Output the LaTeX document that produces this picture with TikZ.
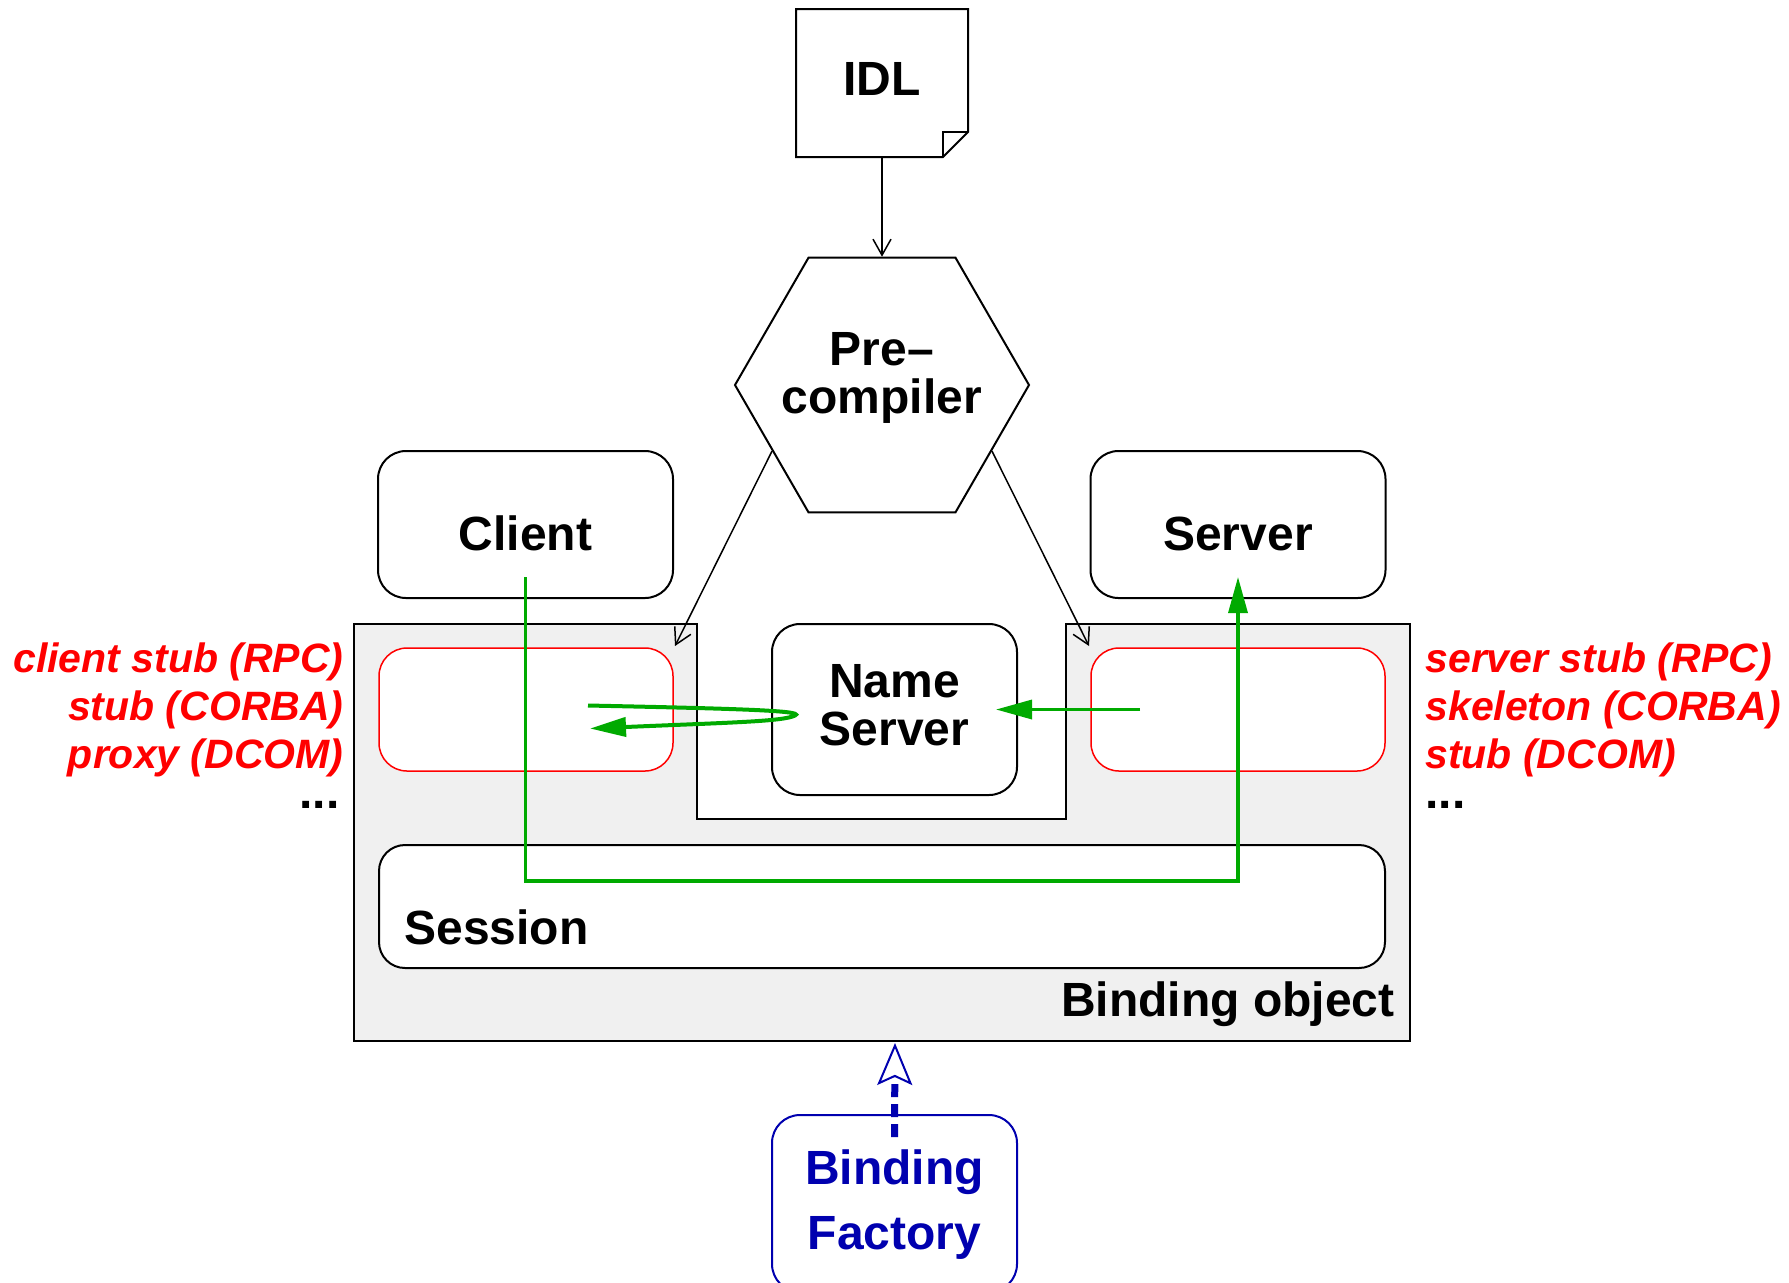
\documentclass[tikz,border=0pt]{standalone}
\usepackage{fontspec}
\setmainfont{Liberation Sans}
\usetikzlibrary{arrows.meta,shapes.geometric,calc}

\definecolor{flowgreen}{RGB}{0,170,0}
\definecolor{stubred}{RGB}{255,0,0}
\definecolor{factblue}{RGB}{0,0,175}
\definecolor{bindgray}{RGB}{240,240,240}

\begin{document}
\begin{tikzpicture}[x=0.5pt,y=-0.5pt,
  box/.style={draw,line width=1pt,rounded corners=14pt,fill=white,inner sep=0pt},
  stubbox/.style={draw=stubred,line width=0.75pt,rounded corners=14pt,fill=white,
    inner sep=0pt,minimum width=147pt,minimum height=61.5pt},
  lbl/.style={font=\fontsize{24}{24}\selectfont\bfseries,inner sep=0pt,anchor=base},
  stubtxt/.style={font=\fontsize{20.5}{24}\selectfont\bfseries\itshape,text=stubred,inner sep=0pt},
  dots/.style={font=\fontsize{24}{24}\selectfont\bfseries,inner sep=0pt,text height=4pt},
  feed/.style={line width=0.75pt,-{Straight Barb[length=8pt,width=9pt]}},
  flow/.style={draw=flowgreen,line width=1.7pt},
  flowtip/.style={-{Triangle[length=18pt,width=9.5pt]},flowgreen},
]
\useasboundingbox (0,0) rectangle (1789,1282);
\clip (0,0) rectangle (1789,1282);

% binding object: grey area with a notch for the name server
\fill[bindgray] (354,624) -- (697,624) -- (697,819) -- (1066,819) -- (1066,624)
  -- (1410,624) -- (1410,1041) -- (354,1041) -- cycle;
\draw[line width=1pt] (354,624) -- (697,624) -- (697,819) -- (1066,819) -- (1066,624)
  -- (1410,624) -- (1410,1041) -- (354,1041) -- cycle;
\coordinate (bindbot) at (895,1043);

% IDL document with folded corner
\coordinate (idlbot) at (882,157);
\draw[line width=1pt,fill=white] (796,9) -- (968,9) -- (968,132) -- (943,157) -- (796,157) -- cycle;
\draw[line width=1pt] (943,157) -- (943,132) -- (968,132);
\node[lbl] (idl) at (882,95) {IDL};

% precompiler
\node[draw,line width=1pt,regular polygon,regular polygon sides=6,minimum size=147pt,
  inner sep=0pt,fill=white] (pre) at (882,385) {};
\node[lbl] (pre1) at (882,365) {Pre–};
\node[lbl] (pre2) at (882,413) {compiler};

% client and server
\node[box,minimum width=147.5pt,minimum height=73.5pt] (client) at (525.5,524.5) {};
\node[lbl] (clientlbl) at (525.5,550) {Client};
\node[box,minimum width=147.5pt,minimum height=73.5pt] (server) at (1238,524.5) {};
\node[lbl] (serverlbl) at (1238,550) {Server};

% stubs
\node[stubbox] (stubL) at (526,709.5) {};
\node[stubbox] (stubR) at (1238,709.5) {};

% name server
\node[box,minimum width=122.5pt,minimum height=85.5pt] (ns) at (894.5,709.5) {};
\node[lbl] (ns1) at (894.5,697) {Name};
\node[lbl] (ns2) at (894.5,745) {Server};

% session
\node[box,rounded corners=13pt,minimum width=503pt,minimum height=61.5pt] (session) at (882,906.5) {};
\node[lbl,anchor=base west] (sessionlbl) at (404,944) {Session};
\node[lbl,anchor=base east] (bindlbl) at (1395,1016) {Binding object};

% binding factory
\node[draw=factblue,line width=1pt,rounded corners=14pt,fill=white,inner sep=0pt,
  minimum width=122.5pt,minimum height=88.5pt] (factory) at (894.5,1203.5) {};
\node[lbl,text=factblue] (fac1) at (894.5,1184) {Binding};
\node[lbl,text=factblue] (fac2) at (894.5,1249) {Factory};

% stub names
\node[stubtxt,anchor=base east] (cs1) at (344,672) {client stub (RPC)};
\node[stubtxt,anchor=base east] (cs2) at (344,720) {stub (CORBA)};
\node[stubtxt,anchor=base east] (cs3) at (344,768) {proxy (DCOM)};
\node[dots,anchor=base east] (cs4) at (340,808) {...};
\node[stubtxt,anchor=base west] (ss1) at (1425,672) {server stub (RPC)};
\node[stubtxt,anchor=base west] (ss2) at (1425,720) {skeleton (CORBA)};
\node[stubtxt,anchor=base west] (ss3) at (1425,768) {stub (DCOM)};
\node[dots,anchor=base west] (ss4) at (1425,808) {...};

% generation arrows
\draw[feed] (idlbot) -- (pre.north);
\coordinate (stubLin) at (675,646);
\coordinate (stubRin) at (1089,646);
\draw[feed] (pre.211) -- (stubLin);
\draw[feed] (pre.-31) -- (stubRin);

% invocation through the session
\coordinate (bus) at (882,881);
\coordinate (callout) at ($(client.south)+(0,-22)$);
\coordinate (callin) at ($(server.south)+(0,-22)$);
\draw[flow,flowtip] (callout) -- (callout |- bus) -- (callin |- bus) -- (callin);

% name server registration and lookup
\draw[flow,flowtip] ($(stubR.center)+(-98,0)$) -- ($(ns.east)+(-22,0)$);
\draw[flow,line width=2pt,flowtip] ($(stubL.center)+(62,-4)$)
  .. controls ($(ns.west)+(-40,-1)$) and ($(ns.west)+(35,1)$) .. ($(ns.west)+(24,6)$)
  .. controls ($(ns.west)+(12,12)$) and ($(ns.west)+(-40,13)$) .. ($(stubL.center)+(64,19)$);

% factory creates the binding object
\draw[factblue,line width=3.5pt,dash pattern=on 6.5pt off 3.5pt,
  -{Stealth[open,fill=white,line width=1pt,length=21pt,width=17.5pt,inset=4pt]}]
  ($(factory.north)+(0,23)$) -- (bindbot);
\end{tikzpicture}
\end{document}
